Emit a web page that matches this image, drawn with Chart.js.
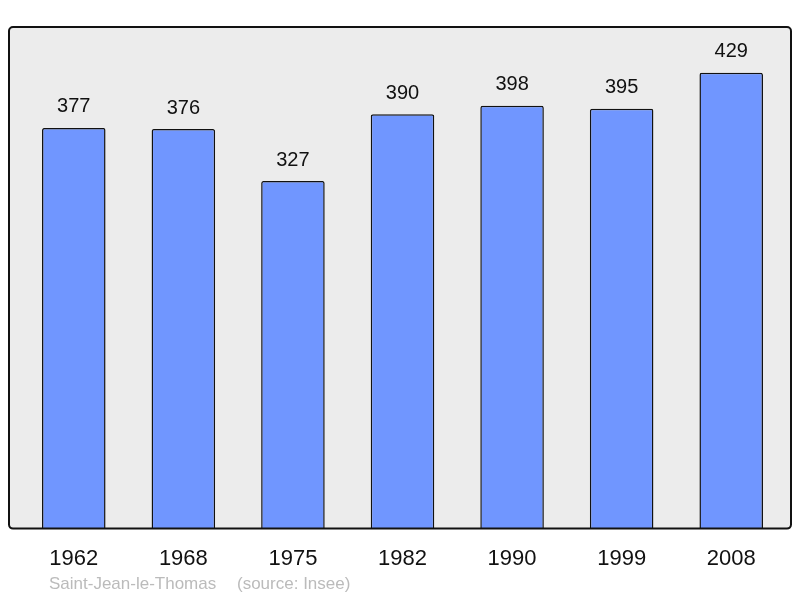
<!DOCTYPE html>
<html>
<head>
<meta charset="utf-8">
<script src="https://cdn.jsdelivr.net/npm/chart.js@4"></script>
<style>
  html, body { margin: 0; padding: 0; background: #fff; }
  #wrap { width: 800px; height: 598px; }
</style>
</head>
<body>
<div id="wrap"><canvas id="pop"></canvas></div>
<script>
const years = ['1962', '1968', '1975', '1982', '1990', '1999', '2008'];
const population = [377, 376, 327, 390, 398, 395, 429];
const town = 'Saint-Jean-le-Thomas';
const source = '(source: Insee)';

const FONT = '"Liberation Sans", Arial, sans-serif';

// grey panel with a black frame behind the bars
const panel = {
  id: 'panel',
  beforeDraw(chart) {
    const { ctx, chartArea: a } = chart;
    const x = a.left - 10, y = a.top, w = a.right - a.left + 15, h = a.bottom - a.top;
    ctx.save();
    ctx.beginPath();
    ctx.roundRect(x, y, w, h, 4);
    ctx.fillStyle = '#ececec';
    ctx.fill();
    ctx.restore();
  },
  afterDatasetsDraw(chart) {
    const { ctx, chartArea: a } = chart;
    const x = a.left - 10, y = a.top, w = a.right - a.left + 15, h = a.bottom - a.top;
    ctx.save();
    ctx.beginPath();
    ctx.roundRect(x, y, w, h, 4);
    ctx.lineWidth = 2;
    ctx.strokeStyle = '#111';
    ctx.stroke();

    // values above the bars
    ctx.fillStyle = '#111';
    ctx.font = '20px ' + FONT;
    ctx.textAlign = 'center';
    ctx.textBaseline = 'middle';
    chart.getDatasetMeta(0).data.forEach((bar, i) => {
      ctx.fillText(String(population[i]), bar.x, bar.y - 21);
    });

    // footer
    ctx.fillStyle = '#bbbbbb';
    ctx.font = '17px ' + FONT;
    ctx.textAlign = 'left';
    ctx.fillText(town, 49, 584);
    ctx.fillText(source, 237, 584);
    ctx.restore();
  }
};

new Chart(document.getElementById('pop'), {
  type: 'bar',
  data: {
    labels: years,
    datasets: [{
      data: population,
      backgroundColor: '#7096ff',
      borderColor: '#111',
      borderWidth: 1.5,
      borderRadius: { topLeft: 2, topRight: 2 },
      borderSkipped: 'bottom',
      barPercentage: 0.58,
      categoryPercentage: 1
    }]
  },
  options: {
    responsive: true,
    maintainAspectRatio: false,
    animation: false,
    layout: { padding: { left: 19, right: 14, top: 27, bottom: 9 } },
    plugins: {
      legend: { display: false },
      tooltip: { enabled: false }
    },
    scales: {
      x: {
        grid: { display: false, drawTicks: false, tickLength: 0 },
        border: { display: false },
        ticks: { color: '#111', font: { family: FONT, size: 22 }, padding: 17, maxRotation: 0 }
      },
      y: {
        display: false,
        min: 0,
        max: 472
      }
    }
  },
  plugins: [panel]
});
</script>
</body>
</html>
